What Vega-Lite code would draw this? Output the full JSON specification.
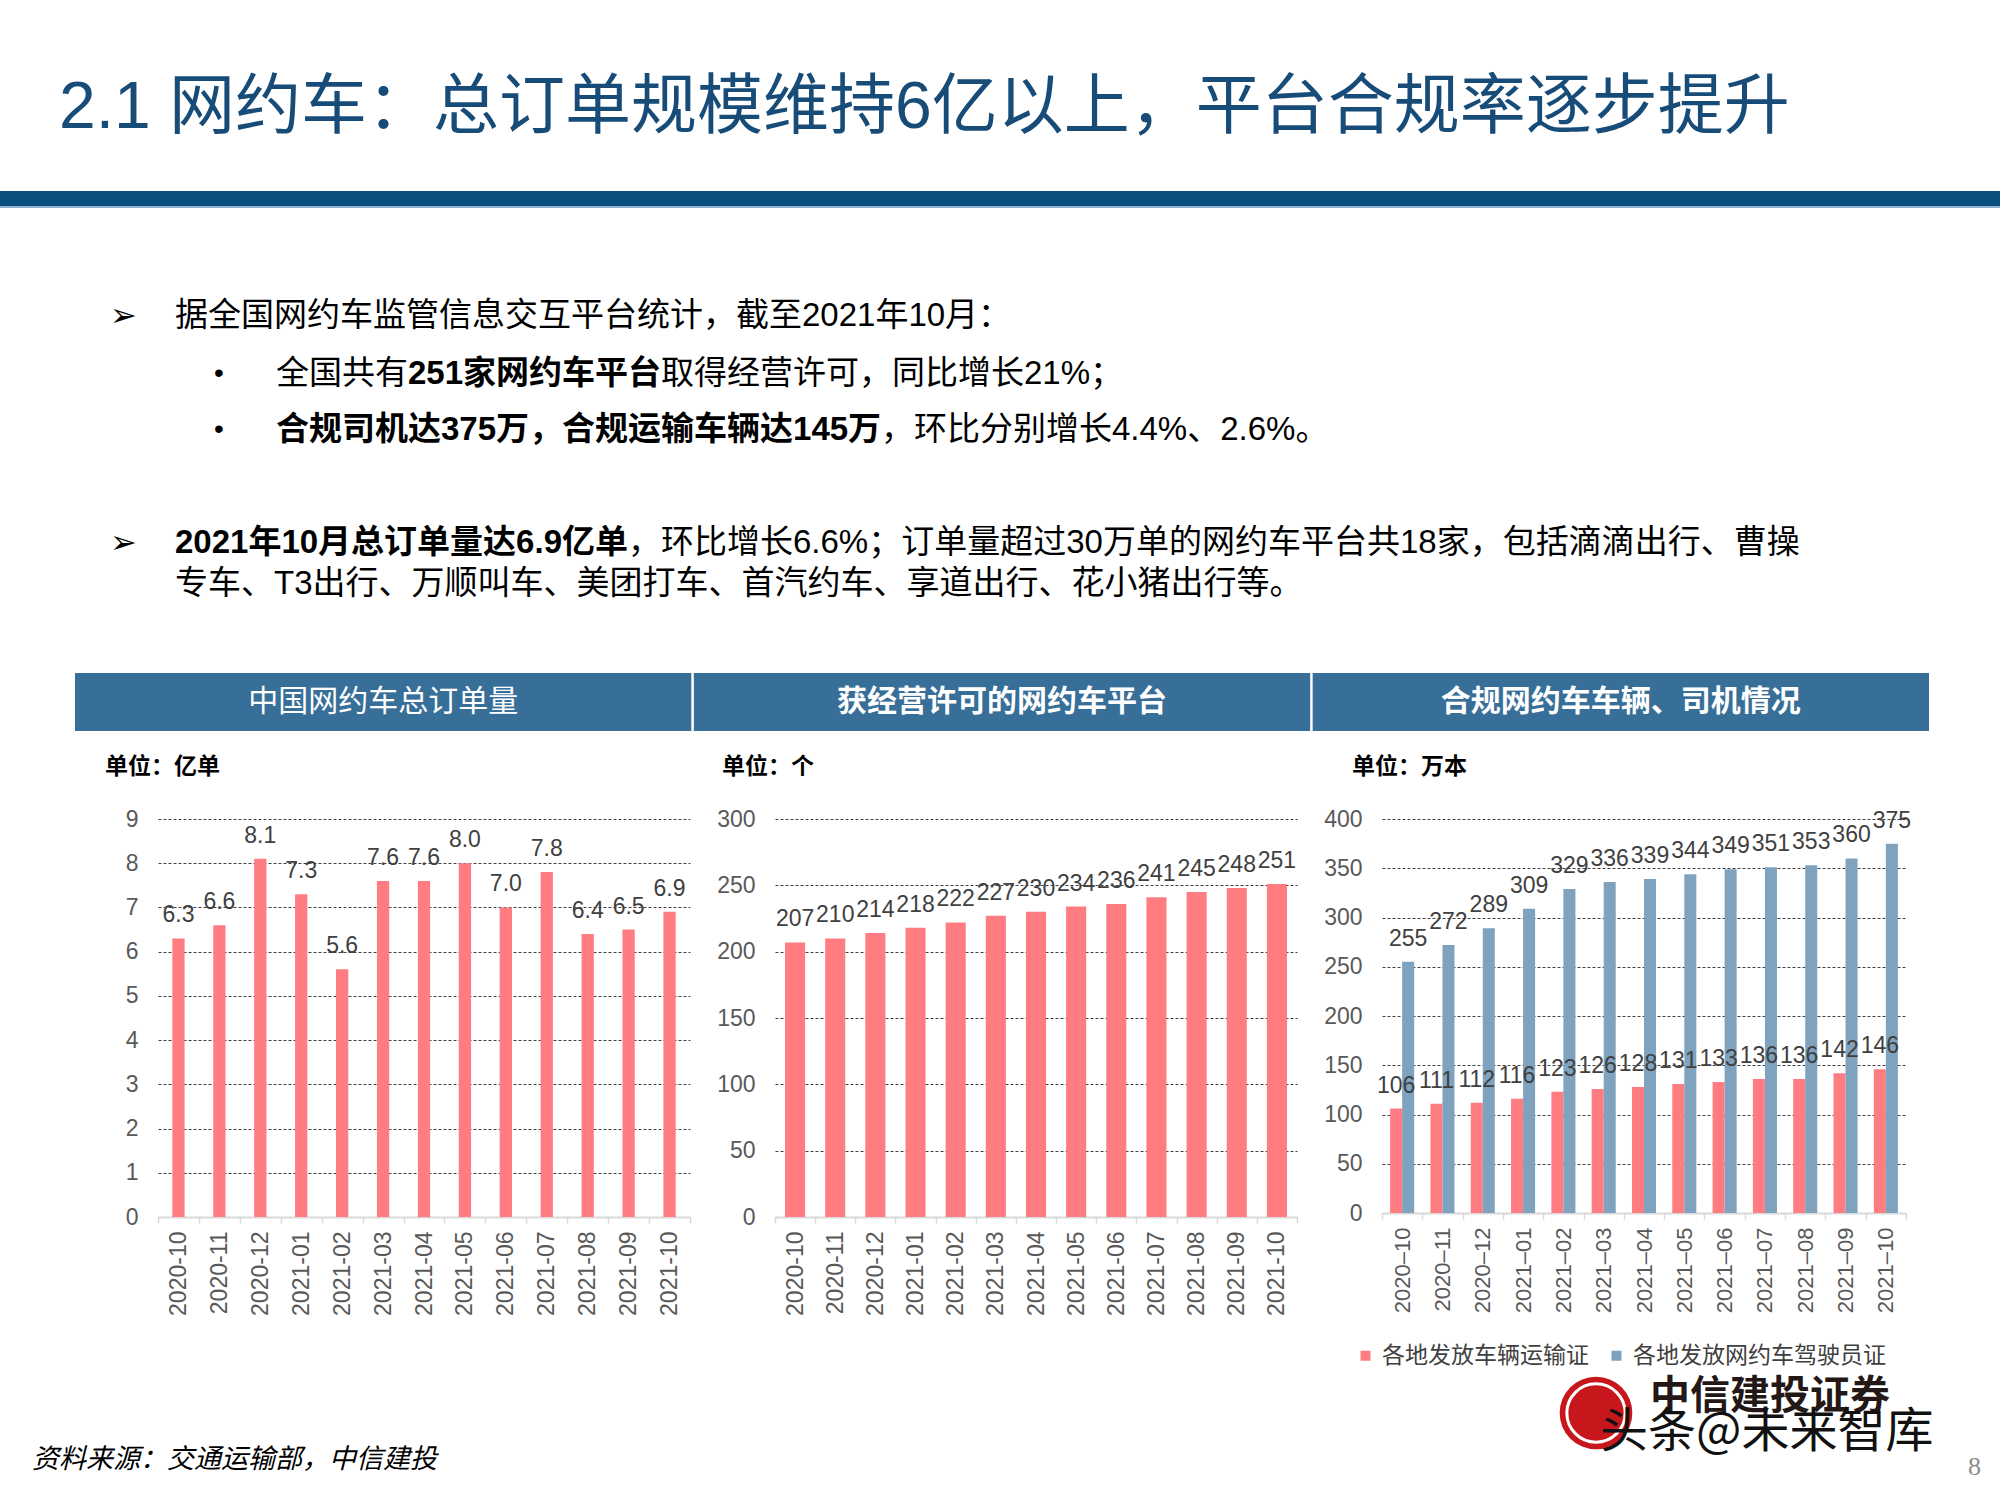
{
  "$schema": "https://vega.github.io/schema/vega-lite/v6.json",
  "background": "white",
  "padding": 0,
  "spacing": 0,
  "bounds": "flush",
  "config": {
    "view": {"stroke": null},
    "axisX": {"title": null, "labelAngle": -90, "labelFontSize": 23, "labelColor": "#595959", "labelFont": "Liberation Sans", "tickColor": "#d9d9d9", "tickSize": 6, "tickWidth": 1.5, "domainColor": "#d9d9d9", "domainWidth": 2, "labelPadding": 8, "zindex": 1, "grid": false},
    "axisY": {"title": null, "domain": false, "ticks": false, "labelPadding": 20, "labelFontSize": 23, "labelColor": "#595959", "labelFont": "Liberation Sans", "gridColor": "#404040", "gridDash": [3, 2], "gridWidth": 1}
  },
  "datasets": {
    "orders": [
      {"month": "2020-10", "v": 6.3}, {"month": "2020-11", "v": 6.6}, {"month": "2020-12", "v": 8.1},
      {"month": "2021-01", "v": 7.3}, {"month": "2021-02", "v": 5.6}, {"month": "2021-03", "v": 7.6},
      {"month": "2021-04", "v": 7.6}, {"month": "2021-05", "v": 8.0}, {"month": "2021-06", "v": 7.0},
      {"month": "2021-07", "v": 7.8}, {"month": "2021-08", "v": 6.4}, {"month": "2021-09", "v": 6.5},
      {"month": "2021-10", "v": 6.9}
    ],
    "platforms": [
      {"month": "2020-10", "v": 207}, {"month": "2020-11", "v": 210}, {"month": "2020-12", "v": 214},
      {"month": "2021-01", "v": 218}, {"month": "2021-02", "v": 222}, {"month": "2021-03", "v": 227},
      {"month": "2021-04", "v": 230}, {"month": "2021-05", "v": 234}, {"month": "2021-06", "v": 236},
      {"month": "2021-07", "v": 241}, {"month": "2021-08", "v": 245}, {"month": "2021-09", "v": 248},
      {"month": "2021-10", "v": 251}
    ],
    "compliance": [
      {"month": "2020-10", "s": "各地发放车辆运输证", "v": 106}, {"month": "2020-10", "s": "各地发放网约车驾驶员证", "v": 255},
      {"month": "2020-11", "s": "各地发放车辆运输证", "v": 111}, {"month": "2020-11", "s": "各地发放网约车驾驶员证", "v": 272},
      {"month": "2020-12", "s": "各地发放车辆运输证", "v": 112}, {"month": "2020-12", "s": "各地发放网约车驾驶员证", "v": 289},
      {"month": "2021-01", "s": "各地发放车辆运输证", "v": 116}, {"month": "2021-01", "s": "各地发放网约车驾驶员证", "v": 309},
      {"month": "2021-02", "s": "各地发放车辆运输证", "v": 123}, {"month": "2021-02", "s": "各地发放网约车驾驶员证", "v": 329},
      {"month": "2021-03", "s": "各地发放车辆运输证", "v": 126}, {"month": "2021-03", "s": "各地发放网约车驾驶员证", "v": 336},
      {"month": "2021-04", "s": "各地发放车辆运输证", "v": 128}, {"month": "2021-04", "s": "各地发放网约车驾驶员证", "v": 339},
      {"month": "2021-05", "s": "各地发放车辆运输证", "v": 131}, {"month": "2021-05", "s": "各地发放网约车驾驶员证", "v": 344},
      {"month": "2021-06", "s": "各地发放车辆运输证", "v": 133}, {"month": "2021-06", "s": "各地发放网约车驾驶员证", "v": 349},
      {"month": "2021-07", "s": "各地发放车辆运输证", "v": 136}, {"month": "2021-07", "s": "各地发放网约车驾驶员证", "v": 351},
      {"month": "2021-08", "s": "各地发放车辆运输证", "v": 136}, {"month": "2021-08", "s": "各地发放网约车驾驶员证", "v": 353},
      {"month": "2021-09", "s": "各地发放车辆运输证", "v": 142}, {"month": "2021-09", "s": "各地发放网约车驾驶员证", "v": 360},
      {"month": "2021-10", "s": "各地发放车辆运输证", "v": 146}, {"month": "2021-10", "s": "各地发放网约车驾驶员证", "v": 375}
    ]
  },
  "vconcat": [
    {
      "width": 2000,
      "height": 819,
      "layer": [
        {"data": {"values": [{"t": "2.1 网约车：总订单规模维持6亿以上，平台合规率逐步提升"}]},
         "mark": {"type": "text", "align": "left", "baseline": "middle", "font": "Liberation Sans, Noto Sans CJK SC", "fontSize": 66, "color": "#174b78"},
         "encoding": {"text": {"field": "t"}, "x": {"value": 59}, "y": {"value": 108}}},
        {"data": {"values": [{}]}, "mark": {"type": "rect", "color": "#0b4f7c"},
         "encoding": {"x": {"value": 0}, "x2": {"value": 2000}, "y": {"value": 191}, "y2": {"value": 206}}},
        {"data": {"values": [{}]}, "mark": {"type": "rect", "color": "#8fb2d2"},
         "encoding": {"x": {"value": 0}, "x2": {"value": 2000}, "y": {"value": 206}, "y2": {"value": 208}}},
        {"data": {"values": [{"t": "➢"}]},
         "mark": {"type": "text", "align": "left", "baseline": "middle", "font": "DejaVu Sans", "fontSize": 32, "color": "#000000"},
         "encoding": {"text": {"field": "t"}, "x": {"value": 110}, "y": {"value": 316}}},
        {"data": {"values": [{"t": "据全国网约车监管信息交互平台统计，截至2021年10月："}]},
         "mark": {"type": "text", "align": "left", "baseline": "middle", "font": "Liberation Sans, Noto Sans CJK SC", "fontSize": 33, "color": "#000000"},
         "encoding": {"text": {"field": "t"}, "x": {"value": 175}, "y": {"value": 316}}},
        {"data": {"values": [{"t": "•"}]},
         "mark": {"type": "text", "align": "center", "baseline": "middle", "font": "Liberation Sans", "fontSize": 28, "color": "#000000"},
         "encoding": {"text": {"field": "t"}, "x": {"value": 219}, "y": {"value": 374}}},
        {"data": {"values": [{"t": "全国共有"}]},
         "mark": {"type": "text", "align": "left", "baseline": "middle", "font": "Liberation Sans, Noto Sans CJK SC", "fontSize": 33, "color": "#000000"},
         "encoding": {"text": {"field": "t"}, "x": {"value": 276}, "y": {"value": 374}}},
        {"data": {"values": [{"t": "251家网约车平台"}]},
         "mark": {"type": "text", "align": "left", "baseline": "middle", "font": "Liberation Sans, Noto Sans CJK SC", "fontSize": 33, "fontWeight": "bold", "color": "#000000"},
         "encoding": {"text": {"field": "t"}, "x": {"value": 408}, "y": {"value": 374}}},
        {"data": {"values": [{"t": "取得经营许可，同比增长21%；"}]},
         "mark": {"type": "text", "align": "left", "baseline": "middle", "font": "Liberation Sans, Noto Sans CJK SC", "fontSize": 33, "color": "#000000"},
         "encoding": {"text": {"field": "t"}, "x": {"value": 661}, "y": {"value": 374}}},
        {"data": {"values": [{"t": "•"}]},
         "mark": {"type": "text", "align": "center", "baseline": "middle", "font": "Liberation Sans", "fontSize": 28, "color": "#000000"},
         "encoding": {"text": {"field": "t"}, "x": {"value": 219}, "y": {"value": 430}}},
        {"data": {"values": [{"t": "合规司机达375万，合规运输车辆达145万"}]},
         "mark": {"type": "text", "align": "left", "baseline": "middle", "font": "Liberation Sans, Noto Sans CJK SC", "fontSize": 33, "fontWeight": "bold", "color": "#000000"},
         "encoding": {"text": {"field": "t"}, "x": {"value": 276}, "y": {"value": 430}}},
        {"data": {"values": [{"t": "，环比分别增长4.4%、2.6%。"}]},
         "mark": {"type": "text", "align": "left", "baseline": "middle", "font": "Liberation Sans, Noto Sans CJK SC", "fontSize": 33, "color": "#000000"},
         "encoding": {"text": {"field": "t"}, "x": {"value": 881}, "y": {"value": 430}}},
        {"data": {"values": [{"t": "➢"}]},
         "mark": {"type": "text", "align": "left", "baseline": "middle", "font": "DejaVu Sans", "fontSize": 32, "color": "#000000"},
         "encoding": {"text": {"field": "t"}, "x": {"value": 110}, "y": {"value": 543}}},
        {"data": {"values": [{"t": "2021年10月总订单量达6.9亿单"}]},
         "mark": {"type": "text", "align": "left", "baseline": "middle", "font": "Liberation Sans, Noto Sans CJK SC", "fontSize": 33, "fontWeight": "bold", "color": "#000000"},
         "encoding": {"text": {"field": "t"}, "x": {"value": 175}, "y": {"value": 543}}},
        {"data": {"values": [{"t": "，环比增长6.6%；订单量超过30万单的网约车平台共18家，包括滴滴出行、曹操"}]},
         "mark": {"type": "text", "align": "left", "baseline": "middle", "font": "Liberation Sans, Noto Sans CJK SC", "fontSize": 33, "color": "#000000"},
         "encoding": {"text": {"field": "t"}, "x": {"value": 628}, "y": {"value": 543}}},
        {"data": {"values": [{"t": "专车、T3出行、万顺叫车、美团打车、首汽约车、享道出行、花小猪出行等。"}]},
         "mark": {"type": "text", "align": "left", "baseline": "middle", "font": "Liberation Sans, Noto Sans CJK SC", "fontSize": 33, "color": "#000000"},
         "encoding": {"text": {"field": "t"}, "x": {"value": 175}, "y": {"value": 584}}},
        {"data": {"values": [{"h": "中国网约车总订单量"}, {"h": "获经营许可的网约车平台"}, {"h": "合规网约车车辆、司机情况"}]},
         "mark": {"type": "rect", "color": "#386f98"},
         "encoding": {
           "x": {"field": "h", "type": "nominal", "scale": {"domain": ["中国网约车总订单量", "获经营许可的网约车平台", "合规网约车车辆、司机情况"], "range": [75, 1929], "paddingInner": 0.004, "paddingOuter": 0}, "axis": null},
           "y": {"value": 673}, "y2": {"value": 731}}},
        {"data": {"values": [{"h": "中国网约车总订单量"}]},
         "mark": {"type": "text", "align": "center", "baseline": "middle", "font": "Noto Sans CJK SC", "fontSize": 30, "color": "white"},
         "encoding": {"x": {"field": "h", "type": "nominal", "scale": {"domain": ["中国网约车总订单量", "获经营许可的网约车平台", "合规网约车车辆、司机情况"]}, "axis": null}, "text": {"field": "h"}, "y": {"value": 702}}},
        {"data": {"values": [{"h": "获经营许可的网约车平台"}, {"h": "合规网约车车辆、司机情况"}]},
         "mark": {"type": "text", "align": "center", "baseline": "middle", "font": "Noto Sans CJK SC", "fontSize": 30, "fontWeight": "bold", "color": "white"},
         "encoding": {"x": {"field": "h", "type": "nominal", "scale": {"domain": ["中国网约车总订单量", "获经营许可的网约车平台", "合规网约车车辆、司机情况"]}, "axis": null}, "text": {"field": "h"}, "y": {"value": 702}}},
        {"data": {"values": [{"t": "单位：亿单"}]},
         "mark": {"type": "text", "align": "left", "baseline": "middle", "font": "Noto Sans CJK SC", "fontSize": 23, "fontWeight": "bold", "color": "#000000"},
         "encoding": {"text": {"field": "t"}, "x": {"value": 105}, "y": {"value": 767}}},
        {"data": {"values": [{"t": "单位：个"}]},
         "mark": {"type": "text", "align": "left", "baseline": "middle", "font": "Noto Sans CJK SC", "fontSize": 23, "fontWeight": "bold", "color": "#000000"},
         "encoding": {"text": {"field": "t"}, "x": {"value": 722}, "y": {"value": 767}}},
        {"data": {"values": [{"t": "单位：万本"}]},
         "mark": {"type": "text", "align": "left", "baseline": "middle", "font": "Noto Sans CJK SC", "fontSize": 23, "fontWeight": "bold", "color": "#000000"},
         "encoding": {"text": {"field": "t"}, "x": {"value": 1352}, "y": {"value": 767}}}
      ]
    },
    {
      "spacing": 85,
      "bounds": "flush",
      "resolve": {"scale": {"color": "independent"}},
      "hconcat": [
        {"width": 73, "height": 398, "data": {"values": []}, "mark": "point"},
        {
          "width": 532,
          "height": 398,
          "data": {"name": "orders"},
          "encoding": {"x": {"field": "month", "type": "ordinal", "scale": {"paddingInner": 0, "paddingOuter": 0}, "axis": {"tickBand": "extent"}}},
          "layer": [
            {"mark": {"type": "bar", "color": "#ff7c80", "width": {"band": 0.3}},
             "encoding": {"y": {"field": "v", "type": "quantitative", "scale": {"domain": [0, 9], "nice": false}, "axis": {"values": [0, 1, 2, 3, 4, 5, 6, 7, 8, 9]}}}},
            {"mark": {"type": "text", "baseline": "alphabetic", "dy": -16, "font": "Liberation Sans", "fontSize": 23, "color": "#404040"},
             "encoding": {"y": {"field": "v", "type": "quantitative"}, "text": {"field": "v", "type": "quantitative", "format": ".1f"}}}
          ]
        },
        {
          "width": 522,
          "height": 398,
          "data": {"name": "platforms"},
          "encoding": {"x": {"field": "month", "type": "ordinal", "scale": {"paddingInner": 0, "paddingOuter": 0}, "axis": {"tickBand": "extent"}}},
          "layer": [
            {"mark": {"type": "bar", "color": "#ff7c80", "width": {"band": 0.5}},
             "encoding": {"y": {"field": "v", "type": "quantitative", "scale": {"domain": [0, 300], "nice": false}, "axis": {"values": [0, 50, 100, 150, 200, 250, 300]}}}},
            {"mark": {"type": "text", "baseline": "alphabetic", "dy": -16, "font": "Liberation Sans", "fontSize": 23, "color": "#404040"},
             "encoding": {"y": {"field": "v", "type": "quantitative"}, "text": {"field": "v", "type": "quantitative"}}}
          ]
        },
        {
          "width": 524,
          "height": 394,
          "data": {"name": "compliance"},
          "encoding": {
            "x": {"field": "month", "type": "ordinal", "scale": {"paddingInner": 0, "paddingOuter": 0}, "axis": {"tickBand": "extent", "labelFontSize": 22, "labelExpr": "replace(datum.label, '-', '–')"}},
            "xOffset": {"field": "s", "type": "nominal", "sort": ["各地发放车辆运输证", "各地发放网约车驾驶员证"], "scale": {"paddingInner": 0, "paddingOuter": 0.675}}
          },
          "layer": [
            {"mark": {"type": "bar"},
             "encoding": {
               "y": {"field": "v", "type": "quantitative", "scale": {"domain": [0, 400], "nice": false}, "axis": {"values": [0, 50, 100, 150, 200, 250, 300, 350, 400]}},
               "color": {"field": "s", "type": "nominal", "scale": {"domain": ["各地发放车辆运输证", "各地发放网约车驾驶员证"], "range": ["#ff7c80", "#7fa2be"]},
                 "legend": {"orient": "none", "legendX": -28, "legendY": 525, "title": null, "direction": "horizontal", "symbolType": "square", "symbolSize": 100, "symbolStrokeWidth": 0, "labelFontSize": 23, "labelLimit": 400, "labelFont": "Noto Sans CJK SC", "labelColor": "#404040", "columnPadding": 16, "labelOffset": 5}}}},
            {"mark": {"type": "text", "baseline": "alphabetic", "dy": -16, "font": "Liberation Sans", "fontSize": 23, "color": "#404040"},
             "encoding": {"y": {"field": "v", "type": "quantitative"}, "text": {"field": "v", "type": "quantitative"}}}
          ]
        }
      ]
    },
    {
      "width": 2000,
      "height": 681,
      "layer": [
        {"data": {"values": [{"t": "资料来源：交通运输部，中信建投"}]},
         "mark": {"type": "text", "align": "left", "baseline": "middle", "font": "Noto Sans CJK SC", "fontSize": 27, "fontStyle": "italic", "color": "#000000"},
         "encoding": {"text": {"field": "t"}, "x": {"value": 32}, "y": {"value": 641}}},
        {"data": {"values": [{}]},
         "mark": {"type": "point", "shape": "circle", "filled": true, "color": "#c8161d", "opacity": 1, "size": 5281},
         "encoding": {"x": {"value": 1596}, "y": {"value": 594}}},
        {"data": {"values": [{}]},
         "mark": {"type": "point", "shape": "circle", "filled": false, "color": "white", "strokeWidth": 3, "opacity": 1, "size": 3400},
         "encoding": {"x": {"value": 1596}, "y": {"value": 594}}},
        {"data": {"values": [{"t": "中信建投证券"}]},
         "mark": {"type": "text", "align": "left", "baseline": "middle", "font": "Noto Sans CJK SC", "fontSize": 40, "fontWeight": "bold", "color": "#231815"},
         "encoding": {"text": {"field": "t"}, "x": {"value": 1650}, "y": {"value": 578}}},
        {"data": {"values": [{"t": "头条@未来智库"}]},
         "mark": {"type": "text", "align": "left", "baseline": "middle", "font": "Noto Sans CJK SC", "fontSize": 48, "color": "#111111"},
         "encoding": {"text": {"field": "t"}, "x": {"value": 1600}, "y": {"value": 614}}},
        {"data": {"values": [{"t": "8"}]},
         "mark": {"type": "text", "align": "left", "baseline": "middle", "font": "Liberation Serif", "fontSize": 26, "color": "#8c8c8c"},
         "encoding": {"text": {"field": "t"}, "x": {"value": 1968}, "y": {"value": 648}}}
      ]
    }
  ]
}
